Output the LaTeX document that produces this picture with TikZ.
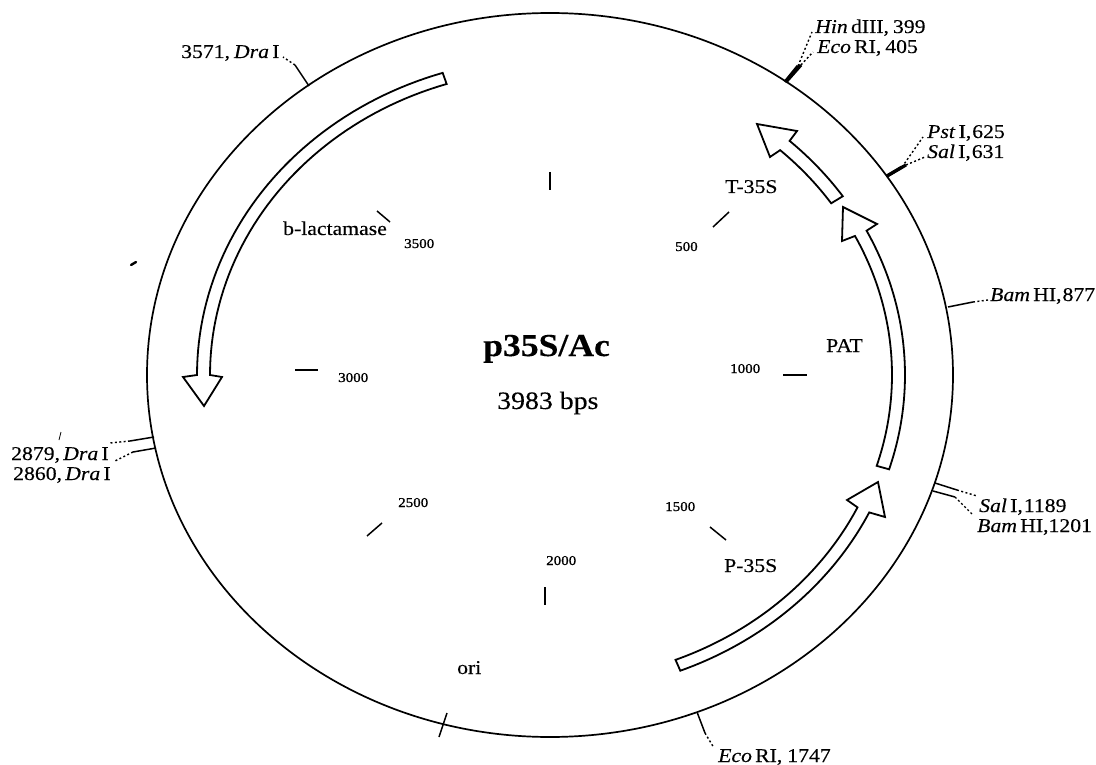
\documentclass[tikz,border=0pt]{standalone}
\usepackage{fontspec}
\setmainfont[FakeStretch=1.113,FakeBold=0.25]{Liberation Serif}
\newfontfamily\numfont[FakeStretch=1.113,FakeBold=1.2]{Liberation Serif}
\newcommand{\fs}[1]{\fontsize{#1}{#1}\selectfont}
\tikzset{
  lab/.style={anchor=base west,inner sep=0pt,font=\fs{19.5}},
  num/.style={anchor=base west,inner sep=0pt,font=\numfont\fs{13.5}},
  plasmid/.style={line width=1.7pt,draw=black},
  geneArrow/.style={line width=1.8pt,draw=black,fill=white,line join=miter},
  tick/.style={line width=1.5pt},
  thicktick/.style={line width=3.2pt},
  leader/.style={line width=1.4pt,dash pattern=on 2pt off 2.4pt},
}
\newcommand{\arcarrow}[7]{% r1 t1 t2 r2 p q s
  \draw[geneArrow] plot[domain=#2:#3,samples=50] ({550+#1*cos(\x)},{375+#1/1.113*sin(\x)})
    -- #5 -- #6 -- #7 --
    plot[domain=#3:#2,samples=50] ({550+#4*cos(\x)},{375+#4/1.113*sin(\x)}) -- cycle;}
\begin{document}
\begin{tikzpicture}[x=1pt,y=-1pt]
\useasboundingbox (0,0) rectangle (1096,765);
\draw[plasmid] (550,375) ellipse (403pt and 362pt);

% gene arrows
\arcarrow{353}{252.3}{180}{340}{(183,377)}{(204,406)}{(222,377)}
\arcarrow{354}{68.4}{25.6}{341}{(885,517)}{(878,482)}{(847,500)}
\arcarrow{355}{17.2}{-26.9}{342}{(877,224)}{(843,207)}{(842,241)}
\arcarrow{354}{-34.2}{-47.4}{340}{(797,131)}{(757,124)}{(770,157)}

% scale ticks
\foreach \n/\a/\b in {t0/{550,172}/{550,190},t500/{713,227}/{729,212},t1000/{783,375}/{807,375},
  t1500/{710,527}/{726,540},t2000/{545,587}/{545,605},t2500/{367,536}/{382,523},
  t3000/{295,370}/{318,370},t3500/{377,211}/{390,222},tori/{447,713}/{439,737}}{
  \coordinate (\n a) at (\a); \coordinate (\n b) at (\b);
  \draw[tick] (\n a) -- (\n b);
}

% scale numbers
\node[num] (n500)  at (675,251) {500};
\node[num] (n1000) at (730,373) {1000};
\node[num] (n1500) at (665,511) {1500};
\node[num] (n2000) at (546,565) {2000};
\node[num] (n2500) at (398,507) {2500};
\node[num] (n3000) at (338,382) {3000};
\node[num] (n3500) at (404,248) {3500};

% gene labels
\node[lab] (tt) at (725,193) {T-35S};
\node[lab] (pat) at (826,352) {PAT};
\node[lab] (ps) at (724,572) {P-35S};
\node[lab] (bl) at (283,235) {b-lactamase};
\node[lab] (ori) at (457,674) {ori};

% title
\node[anchor=base west,inner sep=0pt,font=\bfseries\fs{32}] (title) at (483,356) {p35S/Ac};
\node[anchor=base west,inner sep=0pt,font=\fs{25}] (size) at (497,409) {3983 bps};

% site labels
\node[lab] (hind) at (815,33) {\textit{Hin}\,dIII,\kern4pt 399};
\node[lab] (ecoa) at (817,53) {\textit{Eco}\,RI,\kern4pt 405};
\node[lab] (pst)  at (927,138) {\textit{Pst}\,I,\kern1pt 625};
\node[lab] (sala) at (927,158) {\textit{Sal}\,I,\kern1pt 631};
\node[lab] (bama) at (990,301) {\textit{Bam}\,HI,\kern1pt 877};
\node[lab] (salb) at (979,512) {\textit{Sal}\,I,\kern1pt 1189};
\node[lab] (bamb) at (977,532) {\textit{Bam}\,HI,\kern0pt 1201};
\node[lab] (ecob) at (718,762) {\textit{Eco}\,RI,\kern5pt 1747};
\node[lab] (draa) at (181,58) {3571,\kern4pt\textit{Dra}\,I};
\node[lab] (drab) at (11,460) {2879,\,\textit{Dra}\,I};
\node[lab] (drac) at (13,480) {2860,\,\textit{Dra}\,I};

% site connectors: solid stem then dotted leader
\foreach \n/\a/\b/\c/\sty in {
  hind/{785,82}/{798,66}/{812,32}/thicktick,
  ecoa/{786,82}/{801,65}/{813,52}/thicktick,
  pst/{887,176}/{902,167}/{923,137}/thicktick,
  sala/{887,176}/{906,165}/{925,157}/thicktick,
  bama/{948,307}/{973,302}/{988,300}/tick,
  salb/{935,483}/{957,490}/{977,496}/tick,
  bamb/{933,491}/{955,497}/{973,515}/tick,
  ecob/{697,712}/{705,733}/{714,748}/tick,
  draa/{309,86}/{295,65}/{283,57}/tick,
  drab/{154,437}/{130,441}/{110,443}/tick,
  drac/{156,448}/{133,452}/{115,461}/tick}{
  \coordinate (\n A) at (\a); \coordinate (\n B) at (\b); \coordinate (\n C) at (\c);
  \draw[\sty] (\n A) -- (\n B);
  \draw[leader] (\n B) -- (\n C);
}

% scan marks
\draw[line width=2.4pt,line cap=round] (131,265) -- (136,262);
\draw[line width=0.8pt] (61,432) -- (59,440);
\end{tikzpicture}
\end{document}
